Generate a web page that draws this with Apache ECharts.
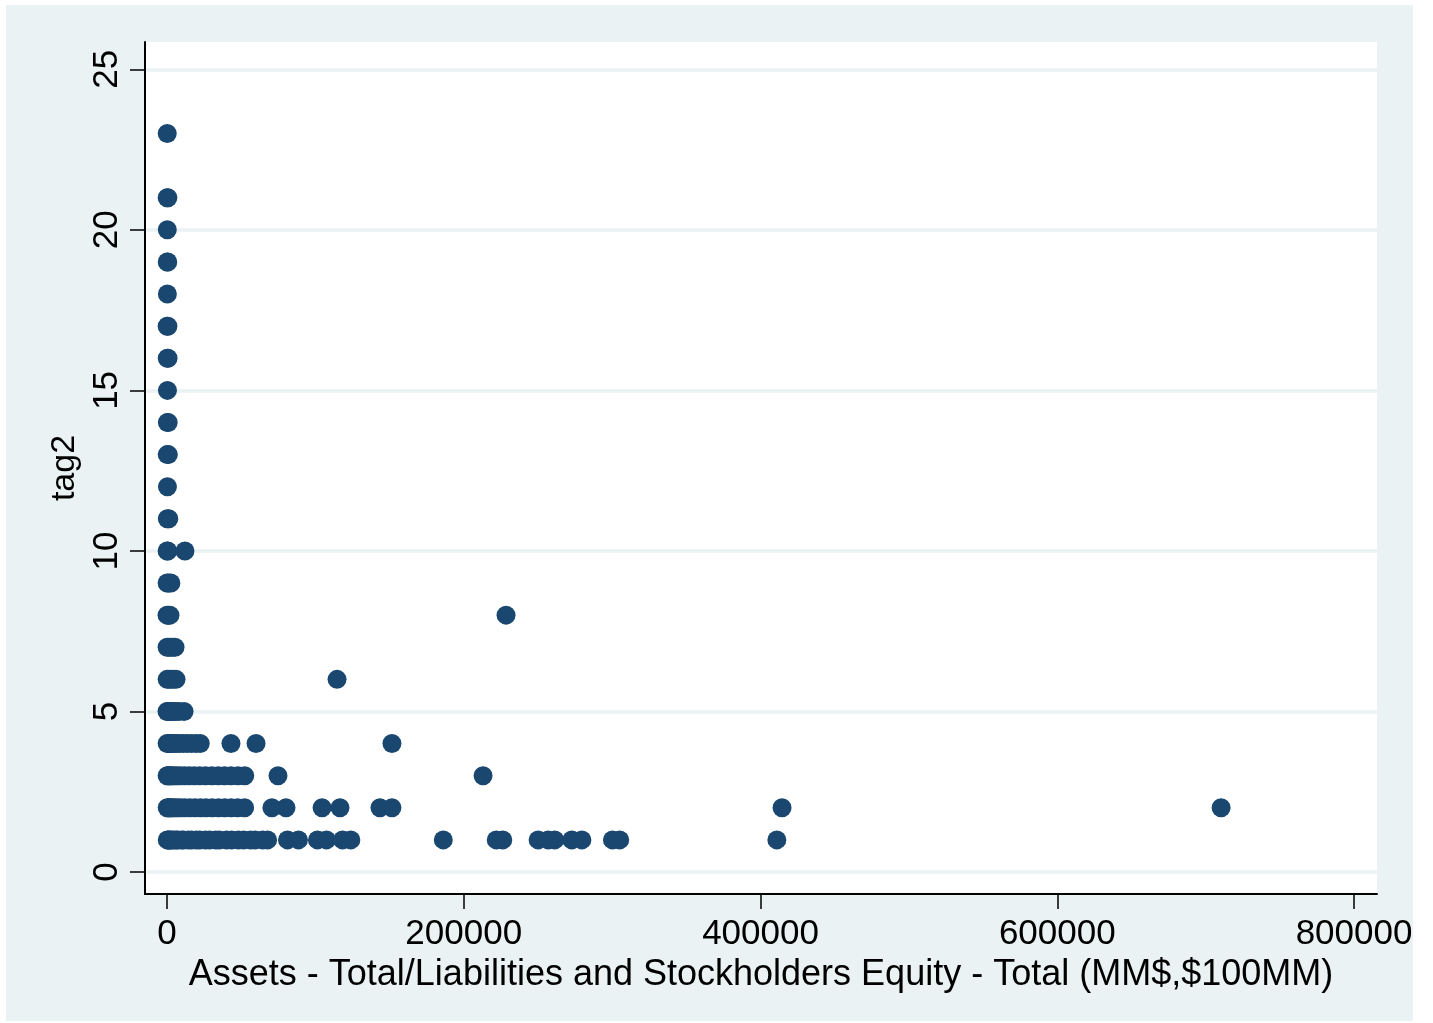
<!DOCTYPE html>
<html>
<head>
<meta charset="utf-8">
<script src="https://cdn.jsdelivr.net/npm/echarts@6/dist/echarts.min.js"></script>
<style>
  html, body { margin: 0; padding: 0; background: #ffffff; }
  #bg { position: absolute; left: 6px; top: 5px; width: 1407px; height: 1016px; background: #EAF2F3; }
  #chart { position: absolute; left: 0; top: 0; width: 1433px; height: 1023px; }
</style>
</head>
<body>
<div id="bg"></div>
<div id="chart"></div>
<script>
// Assets - Total (x) values observed for each tag2 level
const tag1Assets = [150, 820, 1450, 2300, 3100, 4600, 6200, 7300, 9800, 11200, 14500, 16600, 19800, 22100, 25900, 28700, 32800, 35200, 40100, 43500, 48200, 51600, 56300, 59400, 64500, 67800, 81200, 88600, 101400, 107500, 118300, 123900, 186200, 221900, 226300, 250100, 256900, 261300, 272800, 279600, 300200, 305100, 411000];
const tag2Assets = [120, 900, 1700, 2600, 3800, 5200, 7100, 9300, 12000, 15400, 18900, 22600, 26300, 30500, 34800, 38900, 43200, 47600, 52300, 70700, 80200, 104500, 116600, 143500, 151600, 414500, 710400];
const tag3Assets = [80, 700, 1500, 2400, 3500, 5000, 6800, 9000, 11800, 14900, 18300, 22000, 26000, 30200, 34500, 38700, 43100, 47800, 52400, 74800, 213000];
const tag4Assets = [100, 900, 1800, 3000, 4500, 6300, 8400, 10900, 13600, 16500, 19600, 22400, 43100, 60000, 151600];
const tag5Assets = [0, 600, 1500, 2700, 4200, 6000, 8100, 11500];
const tag6Assets = [100, 1200, 2800, 4500, 6100, 114600];
const tag7Assets = [50, 1100, 2500, 4000, 5400];
const tag8Assets = [30, 900, 2000, 228500];
const tag9Assets = [60, 1000, 2600];
const tag10Assets = [80, 500, 12100];
const tag11Assets = [200, 1200];
const tag12Assets = [300];
const tag13Assets = [150, 900];
const tag14Assets = [250, 800];
const tag15Assets = [300];
const tag16Assets = [200, 700];
const tag17Assets = [100, 600];
const tag18Assets = [250];
const tag19Assets = [150, 500];
const tag20Assets = [200];
const tag21Assets = [100, 600];
const tag23Assets = [150];

const tagLevels = [1, 2, 3, 4, 5, 6, 7, 8, 9, 10, 11, 12, 13, 14, 15, 16, 17, 18, 19, 20, 21, 23];
const assetsByLevel = [tag1Assets, tag2Assets, tag3Assets, tag4Assets, tag5Assets, tag6Assets, tag7Assets, tag8Assets, tag9Assets, tag10Assets, tag11Assets, tag12Assets, tag13Assets, tag14Assets, tag15Assets, tag16Assets, tag17Assets, tag18Assets, tag19Assets, tag20Assets, tag21Assets, tag23Assets];

const xTicks = [0, 200000, 400000, 600000, 800000];
const yTicks = [0, 5, 10, 15, 20, 25];

const points = [];
tagLevels.forEach((lvl, i) => {
  assetsByLevel[i].forEach(a => points.push([a, lvl]));
});

const FONT = '"Liberation Sans", Arial, Helvetica, sans-serif';
const chart = echarts.init(document.getElementById('chart'), null, { renderer: 'canvas' });
chart.setOption({
  backgroundColor: 'transparent',
  animation: false,
  grid: {
    left: 145, top: 42, right: 56, bottom: 129,
    show: true, backgroundColor: '#ffffff', borderWidth: 0, containLabel: false
  },
  xAxis: {
    type: 'value',
    min: -14830, max: 815470,
    name: 'Assets - Total/Liabilities and Stockholders Equity - Total (MM$,$100MM)',
    nameLocation: 'middle',
    nameGap: 54,
    nameTextStyle: { fontFamily: FONT, fontSize: 36, color: '#000' },
    axisLine: { show: true, onZero: false, lineStyle: { color: '#000', width: 2 } },
    axisTick: { show: true, length: 15, customValues: xTicks, lineStyle: { color: '#000', width: 1.5 } },
    axisLabel: { customValues: xTicks, margin: 23, fontFamily: FONT, fontSize: 35, color: '#000',
      formatter: v => String(v), showMinLabel: true, showMaxLabel: true, hideOverlap: false },
    splitLine: { show: false }
  },
  yAxis: {
    type: 'value',
    min: -0.685, max: 25.85,
    name: 'tag2',
    nameLocation: 'middle',
    nameRotate: 90,
    nameGap: 60,
    nameTextStyle: { fontFamily: FONT, fontSize: 34, color: '#000' },
    axisLine: { show: true, onZero: false, lineStyle: { color: '#000', width: 2 } },
    axisTick: { show: true, length: 15, customValues: yTicks, lineStyle: { color: '#000', width: 1.5 } },
    axisLabel: { customValues: yTicks, rotate: 90, margin: 20, fontFamily: FONT, fontSize: 35, color: '#000',
      showMinLabel: true, showMaxLabel: true, hideOverlap: false },
    splitLine: { show: true, lineStyle: { color: '#EAF2F3', width: 3.5 } }
  },
  series: [{
    type: 'scatter',
    data: points,
    symbol: 'circle',
    symbolSize: 19,
    itemStyle: { color: '#1A476F', opacity: 1 },
    emphasis: { disabled: true }
  }]
});
</script>
</body>
</html>
